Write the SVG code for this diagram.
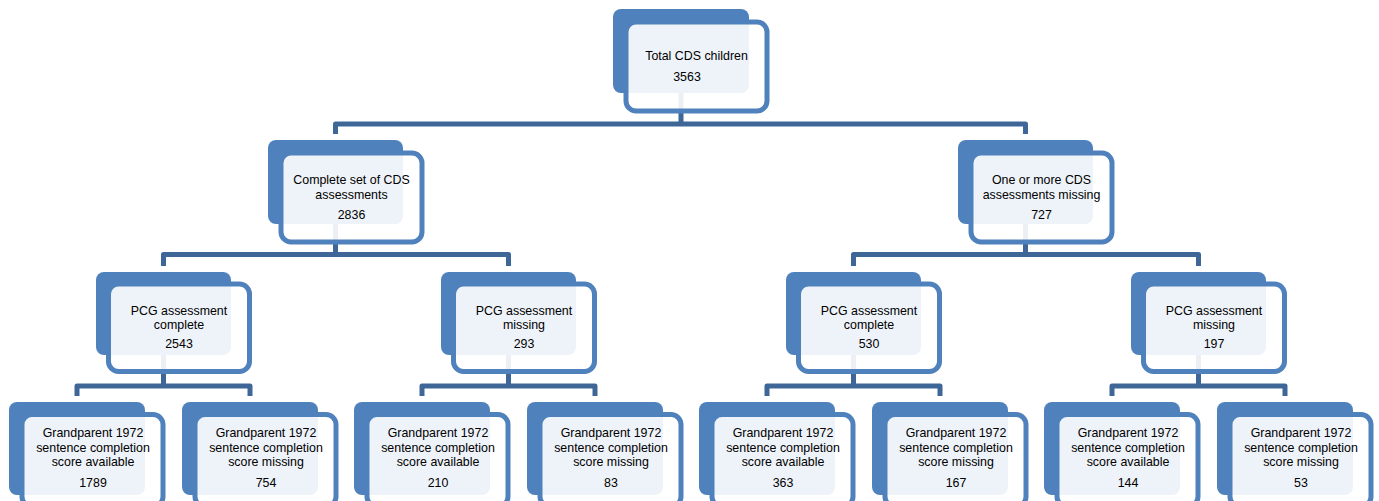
<svg xmlns="http://www.w3.org/2000/svg" width="1379" height="501" viewBox="0 0 1379 501">
<style>
.back{fill:#4F81BD}
.front{fill:#FFFFFF;fill-opacity:0.9;stroke:#4F81BD;stroke-width:5}
.conn{fill:none;stroke:#3E6697;stroke-width:5;stroke-linejoin:round;stroke-linecap:butt}
text{font-family:"Liberation Sans",Arial,sans-serif;font-size:12.4px;fill:#000;text-anchor:middle}
</style>
<rect width="1379" height="501" fill="#FFFFFF"/>
<g id="connectors">
<path class="conn" d="M681,93 V124 M335.5,134 V124 H1025.5 V134"/>
<path class="conn" d="M335.5,224 V254.5 M163.5,266 V254.5 H508.5 V266"/>
<path class="conn" d="M1025.5,224 V254.5 M853.5,266 V254.5 H1198.5 V266"/>
<path class="conn" d="M163.5,354 V386 M77,396 V386 H250 V396"/>
<path class="conn" d="M508.5,354 V386 M422,396 V386 H595 V396"/>
<path class="conn" d="M853.5,354 V386 M767,396 V386 H940 V396"/>
<path class="conn" d="M1198.5,354 V386 M1112,396 V386 H1285 V396"/>
</g>
<g id="n-total">
<rect class="back" x="613" y="9" width="136" height="84" rx="8"/>
<rect class="front" x="626" y="22" width="141" height="89" rx="10"/>
<text x="696.5" y="60">Total CDS children</text>
<text x="687" y="81">3563</text>
</g>
<g id="n-complete">
<rect class="back" x="268" y="140" width="135" height="84" rx="8"/>
<rect class="front" x="281" y="153" width="141" height="89" rx="10"/>
<text x="351.5" y="184">Complete set of CDS</text>
<text x="351.5" y="198.5">assessments</text>
<text x="351.5" y="218.5">2836</text>
</g>
<g id="n-missing">
<rect class="back" x="958" y="140" width="135" height="84" rx="8"/>
<rect class="front" x="971" y="153" width="141" height="89" rx="10"/>
<text x="1041.5" y="184">One or more CDS</text>
<text x="1041.5" y="198.5">assessments missing</text>
<text x="1041.5" y="218.5">727</text>
</g>
<g id="n-pcg-complete-1">
<rect class="back" x="96" y="272" width="135" height="83" rx="8"/>
<rect class="front" x="108.5" y="284" width="141" height="87.5" rx="10"/>
<text x="179" y="315">PCG assessment</text>
<text x="179" y="329">complete</text>
<text x="179" y="348">2543</text>
</g>
<g id="n-pcg-missing-1">
<rect class="back" x="441" y="272" width="135" height="83" rx="8"/>
<rect class="front" x="453.5" y="284" width="141" height="87.5" rx="10"/>
<text x="524" y="315">PCG assessment</text>
<text x="524" y="329">missing</text>
<text x="524" y="348">293</text>
</g>
<g id="n-pcg-complete-2">
<rect class="back" x="786" y="272" width="135" height="83" rx="8"/>
<rect class="front" x="798.5" y="284" width="141" height="87.5" rx="10"/>
<text x="869" y="315">PCG assessment</text>
<text x="869" y="329">complete</text>
<text x="869" y="348">530</text>
</g>
<g id="n-pcg-missing-2">
<rect class="back" x="1131" y="272" width="135" height="83" rx="8"/>
<rect class="front" x="1143.5" y="284" width="141" height="87.5" rx="10"/>
<text x="1214" y="315">PCG assessment</text>
<text x="1214" y="329">missing</text>
<text x="1214" y="348">197</text>
</g>
<g id="n-gp-1">
<rect class="back" x="9" y="402" width="136" height="93" rx="8"/>
<rect class="front" x="22" y="414.5" width="141" height="92" rx="10"/>
<text x="93" y="437">Grandparent 1972</text>
<text x="93" y="451.5">sentence completion</text>
<text x="93" y="466">score available</text>
<text x="93" y="487">1789</text>
</g>
<g id="n-gp-2">
<rect class="back" x="182" y="402" width="136" height="93" rx="8"/>
<rect class="front" x="195" y="414.5" width="141" height="92" rx="10"/>
<text x="266" y="437">Grandparent 1972</text>
<text x="266" y="451.5">sentence completion</text>
<text x="266" y="466">score missing</text>
<text x="266" y="487">754</text>
</g>
<g id="n-gp-3">
<rect class="back" x="354" y="402" width="136" height="93" rx="8"/>
<rect class="front" x="367" y="414.5" width="141" height="92" rx="10"/>
<text x="438" y="437">Grandparent 1972</text>
<text x="438" y="451.5">sentence completion</text>
<text x="438" y="466">score available</text>
<text x="438" y="487">210</text>
</g>
<g id="n-gp-4">
<rect class="back" x="527" y="402" width="136" height="93" rx="8"/>
<rect class="front" x="540" y="414.5" width="141" height="92" rx="10"/>
<text x="611" y="437">Grandparent 1972</text>
<text x="611" y="451.5">sentence completion</text>
<text x="611" y="466">score missing</text>
<text x="611" y="487">83</text>
</g>
<g id="n-gp-5">
<rect class="back" x="699" y="402" width="136" height="93" rx="8"/>
<rect class="front" x="712" y="414.5" width="141" height="92" rx="10"/>
<text x="783" y="437">Grandparent 1972</text>
<text x="783" y="451.5">sentence completion</text>
<text x="783" y="466">score available</text>
<text x="783" y="487">363</text>
</g>
<g id="n-gp-6">
<rect class="back" x="872" y="402" width="136" height="93" rx="8"/>
<rect class="front" x="885" y="414.5" width="141" height="92" rx="10"/>
<text x="956" y="437">Grandparent 1972</text>
<text x="956" y="451.5">sentence completion</text>
<text x="956" y="466">score missing</text>
<text x="956" y="487">167</text>
</g>
<g id="n-gp-7">
<rect class="back" x="1044" y="402" width="136" height="93" rx="8"/>
<rect class="front" x="1057" y="414.5" width="141" height="92" rx="10"/>
<text x="1128" y="437">Grandparent 1972</text>
<text x="1128" y="451.5">sentence completion</text>
<text x="1128" y="466">score available</text>
<text x="1128" y="487">144</text>
</g>
<g id="n-gp-8">
<rect class="back" x="1217" y="402" width="136" height="93" rx="8"/>
<rect class="front" x="1230" y="414.5" width="141" height="92" rx="10"/>
<text x="1301" y="437">Grandparent 1972</text>
<text x="1301" y="451.5">sentence completion</text>
<text x="1301" y="466">score missing</text>
<text x="1301" y="487">53</text>
</g>
</svg>
